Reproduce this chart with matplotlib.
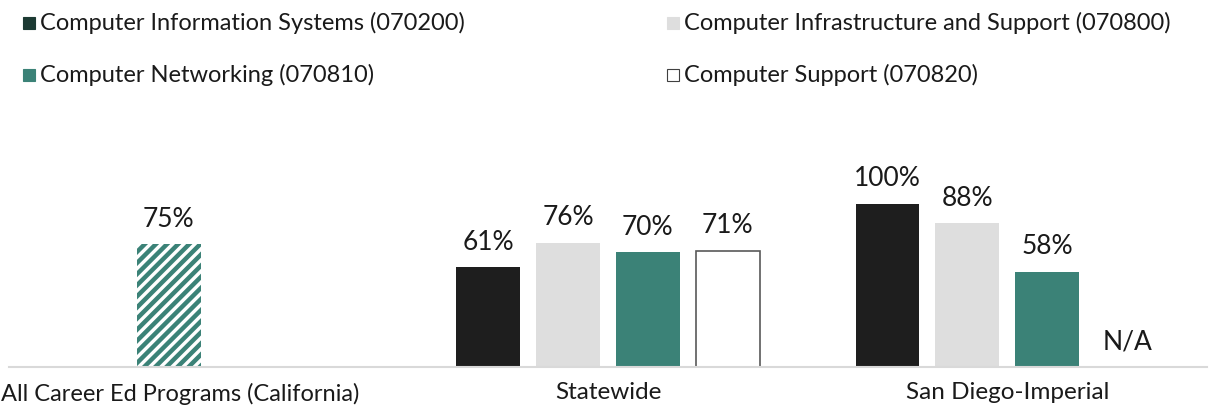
import numpy as np
import matplotlib
matplotlib.use("Agg")
import matplotlib.pyplot as plt
from matplotlib.patches import Rectangle

plt.rcParams['font.family'] = ['Lato', 'DejaVu Sans']
plt.rcParams['hatch.linewidth'] = 3.2

categories = ["All Career Ed Programs (California)", "Statewide", "San Diego-Imperial"]
series_names = ["Computer Information Systems (070200)",
                "Computer Infrastructure and Support (070800)",
                "Computer Networking (070810)",
                "Computer Support (070820)"]
all_programs = [75, np.nan, np.nan]
cis = [np.nan, 61, 100]
infra = [np.nan, 76, 88]
networking = [np.nan, 70, 58]
support = [np.nan, 71, np.nan]
support_labels = ["", "71%", "N/A"]

BLACK = "#1e1e1e"
GRAY = "#dedede"
TEAL = "#3b8277"
LEG_DARK = "#1c3a33"
TXT = "#1a1a1a"

W, H = 1214, 412
fig = plt.figure(figsize=(W / 100, H / 100), dpi=100)
ax = fig.add_axes([9 / W, (H - 366.5) / H, 1198 / W, 195.6 / H])
ax.set_xlim(-0.5, 2.5)
ax.set_ylim(0, 120)
for s in ["top", "right", "left"]:
    ax.spines[s].set_visible(False)
ax.spines["bottom"].set_color("#d9d9d9")
ax.spines["bottom"].set_linewidth(1.5)
ax.set_yticks([])
ax.set_xticks([])

x = np.arange(len(categories))
bw = 0.16
offs = [-0.3, -0.1, 0.1, 0.3]

# hatched all-programs bar
ax.bar(x + offs[1], all_programs, bw, facecolor="white", edgecolor=TEAL,
       hatch="///", linewidth=0)

styles = [
    dict(color=BLACK),
    dict(color=GRAY),
    dict(color=TEAL),
    dict(facecolor="white", edgecolor="#595959", linewidth=1.2),
]
data = [cis, infra, networking, support]
for i, (vals, st) in enumerate(zip(data, styles)):
    ax.bar(x + offs[i], vals, bw, **st)

def lab(xp, v, txt):
    ax.annotate(txt, (xp, v), xytext=(0, 9), textcoords="offset points",
                ha="center", va="bottom", fontsize=19, color=TXT)

for xi, v in zip(x, all_programs):
    if not np.isnan(v):
        lab(xi + offs[1], v, f"{v:.0f}%")
for i, vals in enumerate(data):
    for xi, v in zip(x, vals):
        if not np.isnan(v):
            lab(xi + offs[i], v, f"{v:.0f}%")
for xi, v, t in zip(x, support, support_labels):
    if t == "N/A":
        ax.text(xi + offs[3], 7.5, t, ha="center", va="bottom", fontsize=19, color=TXT)

# category labels
for i, c in enumerate(categories):
    if i == 0:
        fig.text(1 / W, 1 - 394 / H, c, ha="left", va="center", fontsize=17, color=TXT)
    else:
        ax.text(x[i], -0.08, c, transform=ax.get_xaxis_transform(), ha="center", va="top",
                fontsize=17.5, color=TXT)

# legend (manual)
leg_pos = [(23, 23), (667, 23), (23, 75), (667, 75)]
leg_face = [LEG_DARK, GRAY, TEAL, "white"]
leg_edge = [LEG_DARK, GRAY, TEAL, "#404040"]
for (lx, ly), name, fc, ec in zip(leg_pos, series_names, leg_face, leg_edge):
    fig.patches.append(Rectangle((lx / W, 1 - (ly + 6) / H), 12 / W, 12 / H,
                                 transform=fig.transFigure, facecolor=fc,
                                 edgecolor=ec, linewidth=0.8))
    fig.text((lx + 17) / W, 1 - ly / H, name, ha="left", va="center",
             fontsize=17, color=TXT)

fig.savefig("out.png", dpi=100)
